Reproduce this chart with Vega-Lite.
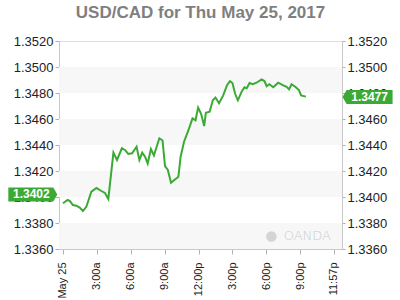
{
  "$schema": "https://vega.github.io/schema/vega-lite/v6.json",
  "autosize": "none",
  "width": 283,
  "height": 208,
  "padding": {"left": 59, "top": 41, "right": 58, "bottom": 51},
  "background": "white",
  "title": {
    "text": "USD/CAD for Thu May 25, 2017",
    "font": "Liberation Sans",
    "fontSize": 17,
    "fontWeight": "bold",
    "color": "#7f7f7f",
    "anchor": "middle",
    "baseline": "alphabetic",
    "offset": 0
  },
  "config": {
    "view": {"stroke": "#dddddd"},
    "axis": {"grid": false, "domainColor": "#c8c8c8", "tickColor": "#b0b0b0", "labelColor": "#222222", "labelFont": "Liberation Sans"},
    "axisX": {"labelOverlap": false, "labelFlush": false, "labelAngle": 270, "labelAlign": "right", "labelBaseline": "middle", "labelFontSize": 11, "tickSize": 5, "labelPadding": 8}
  },
  "datasets": {
    "rate": [
      {"t": "2017-05-25T00:00:00Z", "v": 1.33952},
      {"t": "2017-05-25T00:25:00Z", "v": 1.33977},
      {"t": "2017-05-25T00:37:00Z", "v": 1.33969},
      {"t": "2017-05-25T00:53:00Z", "v": 1.33938},
      {"t": "2017-05-25T01:11:00Z", "v": 1.33933},
      {"t": "2017-05-25T01:29:00Z", "v": 1.33918},
      {"t": "2017-05-25T01:46:00Z", "v": 1.33892},
      {"t": "2017-05-25T02:04:00Z", "v": 1.33925},
      {"t": "2017-05-25T02:31:00Z", "v": 1.34041},
      {"t": "2017-05-25T02:58:00Z", "v": 1.34069},
      {"t": "2017-05-25T03:22:00Z", "v": 1.34048},
      {"t": "2017-05-25T03:43:00Z", "v": 1.34031},
      {"t": "2017-05-25T04:01:00Z", "v": 1.33985},
      {"t": "2017-05-25T04:28:00Z", "v": 1.34342},
      {"t": "2017-05-25T04:47:00Z", "v": 1.34285},
      {"t": "2017-05-25T05:13:00Z", "v": 1.34375},
      {"t": "2017-05-25T05:29:00Z", "v": 1.34362},
      {"t": "2017-05-25T05:47:00Z", "v": 1.34331},
      {"t": "2017-05-25T06:07:00Z", "v": 1.34336},
      {"t": "2017-05-25T06:31:00Z", "v": 1.34387},
      {"t": "2017-05-25T06:46:00Z", "v": 1.34285},
      {"t": "2017-05-25T07:01:00Z", "v": 1.34341},
      {"t": "2017-05-25T07:16:00Z", "v": 1.34310},
      {"t": "2017-05-25T07:30:00Z", "v": 1.34258},
      {"t": "2017-05-25T07:47:00Z", "v": 1.34369},
      {"t": "2017-05-25T08:03:00Z", "v": 1.34319},
      {"t": "2017-05-25T08:32:00Z", "v": 1.34452},
      {"t": "2017-05-25T08:49:00Z", "v": 1.34435},
      {"t": "2017-05-25T09:02:00Z", "v": 1.34238},
      {"t": "2017-05-25T09:17:00Z", "v": 1.34208},
      {"t": "2017-05-25T09:34:00Z", "v": 1.34110},
      {"t": "2017-05-25T09:55:00Z", "v": 1.34135},
      {"t": "2017-05-25T10:13:00Z", "v": 1.34156},
      {"t": "2017-05-25T10:25:00Z", "v": 1.34310},
      {"t": "2017-05-25T10:43:00Z", "v": 1.34425},
      {"t": "2017-05-25T11:05:00Z", "v": 1.34508},
      {"t": "2017-05-25T11:28:00Z", "v": 1.34605},
      {"t": "2017-05-25T11:44:00Z", "v": 1.34590},
      {"t": "2017-05-25T11:58:00Z", "v": 1.34688},
      {"t": "2017-05-25T12:14:00Z", "v": 1.34638},
      {"t": "2017-05-25T12:30:00Z", "v": 1.34546},
      {"t": "2017-05-25T12:39:00Z", "v": 1.34648},
      {"t": "2017-05-25T12:59:00Z", "v": 1.34656},
      {"t": "2017-05-25T13:16:00Z", "v": 1.34744},
      {"t": "2017-05-25T13:30:00Z", "v": 1.34765},
      {"t": "2017-05-25T13:49:00Z", "v": 1.34721},
      {"t": "2017-05-25T14:10:00Z", "v": 1.34778},
      {"t": "2017-05-25T14:32:00Z", "v": 1.34862},
      {"t": "2017-05-25T14:47:00Z", "v": 1.34891},
      {"t": "2017-05-25T15:00:00Z", "v": 1.34877},
      {"t": "2017-05-25T15:15:00Z", "v": 1.34792},
      {"t": "2017-05-25T15:29:00Z", "v": 1.34744},
      {"t": "2017-05-25T15:49:00Z", "v": 1.34810},
      {"t": "2017-05-25T16:04:00Z", "v": 1.34844},
      {"t": "2017-05-25T16:16:00Z", "v": 1.34836},
      {"t": "2017-05-25T16:31:00Z", "v": 1.34877},
      {"t": "2017-05-25T16:48:00Z", "v": 1.34868},
      {"t": "2017-05-25T17:08:00Z", "v": 1.34879},
      {"t": "2017-05-25T17:35:00Z", "v": 1.34905},
      {"t": "2017-05-25T17:50:00Z", "v": 1.34892},
      {"t": "2017-05-25T18:02:00Z", "v": 1.34852},
      {"t": "2017-05-25T18:16:00Z", "v": 1.34868},
      {"t": "2017-05-25T18:37:00Z", "v": 1.34844},
      {"t": "2017-05-25T19:03:00Z", "v": 1.34879},
      {"t": "2017-05-25T19:30:00Z", "v": 1.34859},
      {"t": "2017-05-25T19:48:00Z", "v": 1.34848},
      {"t": "2017-05-25T20:01:00Z", "v": 1.34828},
      {"t": "2017-05-25T20:14:00Z", "v": 1.34867},
      {"t": "2017-05-25T20:37:00Z", "v": 1.34844},
      {"t": "2017-05-25T20:53:00Z", "v": 1.34823},
      {"t": "2017-05-25T21:05:00Z", "v": 1.34781},
      {"t": "2017-05-25T21:30:00Z", "v": 1.34772}
    ],
    "bands": [
      {"lo": 1.348, "hi": 1.350},
      {"lo": 1.344, "hi": 1.346},
      {"lo": 1.340, "hi": 1.342},
      {"lo": 1.336, "hi": 1.338}
    ],
    "badges": [
      {"t": "2017-05-24T23:30:00Z", "v": 1.3402, "label": "1.3402", "side": "left"},
      {"t": "2017-05-26T00:45:00Z", "v": 1.3477, "label": "1.3477", "side": "right"}
    ],
    "mark": [
      {"t": "2017-05-25T21:38:00Z", "v": 1.3370, "label": "OANDA"}
    ],
    "logo": [
      {"t": "2017-05-25T18:27:00Z", "v": 1.33696}
    ]
  },
  "encoding": {
    "x": {
      "field": "t", "type": "temporal",
      "scale": {"type": "utc", "domain": [{"year": 2017, "month": 5, "date": 24, "hours": 23, "minutes": 39, "utc": true}, {"year": 2017, "month": 5, "date": 26, "hours": 0, "minutes": 42, "utc": true}]},
      "axis": {
        "title": null,
        "values": [
          {"year": 2017, "month": 5, "date": 25, "hours": 0, "utc": true},
          {"year": 2017, "month": 5, "date": 25, "hours": 3, "utc": true},
          {"year": 2017, "month": 5, "date": 25, "hours": 6, "utc": true},
          {"year": 2017, "month": 5, "date": 25, "hours": 9, "utc": true},
          {"year": 2017, "month": 5, "date": 25, "hours": 12, "utc": true},
          {"year": 2017, "month": 5, "date": 25, "hours": 15, "utc": true},
          {"year": 2017, "month": 5, "date": 25, "hours": 18, "utc": true},
          {"year": 2017, "month": 5, "date": 25, "hours": 21, "utc": true},
          {"year": 2017, "month": 5, "date": 25, "hours": 23, "minutes": 57, "utc": true}
        ],
        "labelExpr": "(utchours(datum.value) == 0 && utcminutes(datum.value) == 0) ? 'May 25' : utcFormat(datum.value, '%-I:%M') + (utchours(datum.value) < 12 ? 'a' : 'p')",
        "labelOverlap": false
      }
    }
  },
  "layer": [
    {
      "data": {"name": "bands"},
      "mark": {"type": "rect", "fill": "#f7f7f7"},
      "encoding": {
        "x": null,
        "y": {
          "field": "lo", "type": "quantitative",
          "scale": {"domain": [1.336, 1.352], "nice": false, "zero": false},
          "axis": {"orient": "left", "title": null, "values": [1.336, 1.338, 1.340, 1.342, 1.344, 1.346, 1.348, 1.350, 1.352], "format": ".4f", "labelFontSize": 13, "tickSize": 4, "labelPadding": 2}
        },
        "y2": {"field": "hi"}
      }
    },
    {
      "data": {"name": "rate"},
      "mark": {"type": "line", "color": "#3aaa35", "strokeWidth": 2},
      "encoding": {
        "y": {
          "field": "v", "type": "quantitative",
          "axis": {"orient": "right", "title": null, "values": [1.336, 1.338, 1.340, 1.342, 1.344, 1.346, 1.348, 1.350, 1.352], "format": ".4f", "labelFontSize": 13, "tickSize": 3, "labelPadding": 2}
        }
      }
    },
    {
      "data": {"name": "logo"},
      "mark": {"type": "point", "shape": "circle", "filled": true, "color": "#d4d4d4", "opacity": 1, "size": 110},
      "encoding": {
        "y": {"field": "v", "type": "quantitative", "axis": null}
      }
    },
    {
      "data": {"name": "mark"},
      "mark": {"type": "text", "font": "DejaVu Sans", "fontSize": 13, "fontWeight": 200, "color": "#cccccc", "align": "center", "baseline": "middle"},
      "encoding": {
        "y": {"field": "v", "type": "quantitative", "axis": null},
        "text": {"field": "label"}
      }
    },
    {
      "data": {"name": "badges"},
      "transform": [{"filter": "datum.side == 'left'"}],
      "layer": [
        {
          "mark": {"type": "point", "shape": "M0,0L-0.16,-0.28L-1.96,-0.28L-1.96,0.28L-0.16,0.28Z", "filled": true, "color": "#3aaa35", "opacity": 1, "size": 2500, "clip": false},
          "encoding": {
            "y": {"field": "v", "type": "quantitative", "axis": null}
          }
        },
        {
          "mark": {"type": "text", "font": "Liberation Sans", "fontSize": 12, "fontWeight": "bold", "color": "white", "align": "center", "baseline": "middle", "dx": -26, "clip": false},
          "encoding": {
            "y": {"field": "v", "type": "quantitative", "axis": null},
            "text": {"field": "label"}
          }
        }
      ]
    },
    {
      "data": {"name": "badges"},
      "transform": [{"filter": "datum.side == 'right'"}],
      "layer": [
        {
          "mark": {"type": "point", "shape": "M0,0L0.16,-0.28L2,-0.28L2,0.28L0.16,0.28Z", "filled": true, "color": "#3aaa35", "opacity": 1, "size": 2500, "clip": false},
          "encoding": {
            "y": {"field": "v", "type": "quantitative", "axis": null}
          }
        },
        {
          "mark": {"type": "text", "font": "Liberation Sans", "fontSize": 12, "fontWeight": "bold", "color": "white", "align": "center", "baseline": "middle", "dx": 27, "clip": false},
          "encoding": {
            "y": {"field": "v", "type": "quantitative", "axis": null},
            "text": {"field": "label"}
          }
        }
      ]
    }
  ],
  "resolve": {"axis": {"y": "independent"}}
}
